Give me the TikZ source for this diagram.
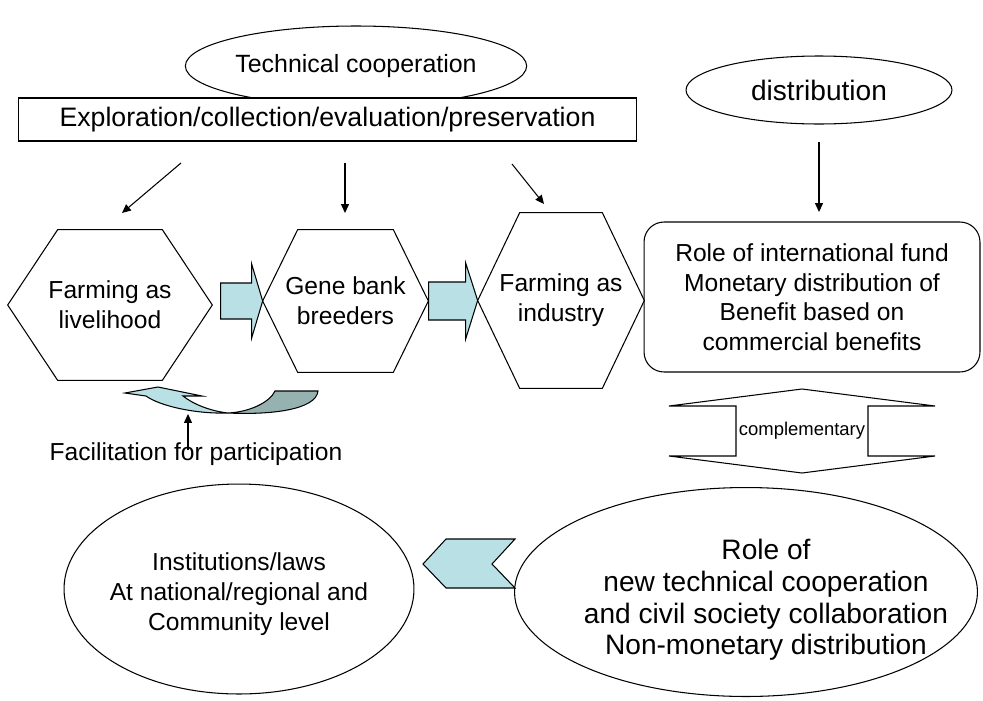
\documentclass[tikz,border=0pt]{standalone}
\usepackage{fontspec}
\setmainfont{Liberation Sans}
\usetikzlibrary{shapes.geometric,arrows.meta,calc}

\definecolor{arrowblue}{RGB}{185,224,228}
\definecolor{arrowshade}{RGB}{150,178,176}

\tikzstyle{oval} = [ellipse, draw, fill=white, inner sep=0pt, align=center, line width=0.6pt]
\tikzstyle{hexbox} = [rectangle, inner sep=0pt, align=center, font=\fontsize{14}{17}\selectfont]
\tikzstyle{outline} = [draw, line width=0.6pt]
\tikzstyle{feed} = [-{Triangle[length=5pt,width=4.5pt]}, line width=0.6pt]
\tikzstyle{blockarrow} = [draw, fill=arrowblue, line width=0.6pt]

% hexagon round a hexbox node, #2 = how far the corners are set in
\newcommand{\hexframe}[2]{%
  \draw[outline] (#1.west) -- ($(#1.north west)+(#2,0)$) -- ($(#1.north east)-(#2,0)$)
    -- (#1.east) -- ($(#1.south east)-(#2,0)$) -- ($(#1.south west)+(#2,0)$) -- cycle;}

\begin{document}
\begin{tikzpicture}[x=0.02cm, y=-0.02cm]
\useasboundingbox (0,0) rectangle (983,700);

% top row
\node[oval, minimum width=6.76cm, minimum height=1.6cm, font=\fontsize{14.2}{17}\selectfont]
    (coop) at (356,66) {Technical cooperation};
\node[outline, fill=white, minimum width=12.38cm, minimum height=0.86cm, inner sep=0pt,
    font=\fontsize{15.2}{18}\selectfont] (tasks) at (327.5,119.5)
    {Exploration/collection/evaluation/preservation};
\node[oval, minimum width=5.32cm, minimum height=1.36cm, font=\fontsize{16}{19}\selectfont]
    (distr) at (819,90) {distribution};

% users of the collections
\node[hexbox, minimum width=4.08cm, minimum height=3cm] (live) at (110,305) {Farming as\\livelihood};
\node[hexbox, minimum width=3.3cm, minimum height=2.84cm] (gene) at (345.5,301) {Gene bank\\breeders};
\node[hexbox, minimum width=3.32cm, minimum height=3.5cm] (indus) at (561,300.5) {Farming as\\industry};
\hexframe{live}{50}
\hexframe{gene}{35}
\hexframe{indus}{42}

\node[outline, rounded corners=0.4cm, minimum width=6.72cm, minimum height=3cm, align=center,
    font=\fontsize{14}{16.8}\selectfont] (fund) at (812,297)
    {Role of international fund\\Monetary distribution of\\Benefit based on\\commercial benefits};

% arrows from the tasks and from distribution
\coordinate (t1) at (181,163);
\coordinate (t2) at (345,163);
\coordinate (t3) at (512,164);
\coordinate (d1) at (819,142);
\coordinate (live top) at (122,213);
\coordinate (gene top) at (345,213);
\coordinate (indus top) at (544,204);
\coordinate (fund top) at (819,212);
\draw[feed] (t1) -- (live top);
\draw[feed] (t2) -- (gene top);
\draw[feed] (t3) -- (indus top);
\draw[feed] (d1) -- (fund top);

% block arrows between the hexagons
\draw[blockarrow] (gene.west) -- ++(-11,-37) -- ++(0,19) -- ++(-31,0) -- ++(0,36)
    -- ++(31,0) -- ++(0,19) -- cycle;
\draw[blockarrow] (indus.west) -- ++(-12,-37.5) -- ++(0,19) -- ++(-37,0) -- ++(0,38)
    -- ++(37,0) -- ++(0,19) -- cycle;

% curved arrow under the first hexagon
\draw[outline, fill=arrowblue] (125,393) -- (158,387) -- (202,396) -- (183,396)
    .. controls (193,404) and (210,411) .. (228,413)
    .. controls (195,414) and (160,406) .. (146,396) -- cycle;
\draw[outline, fill=arrowshade] (228,413) .. controls (250,412) and (270,402) .. (275,391)
    -- (318,391) .. controls (316,410) and (270,415) .. (228,413) -- cycle;

\node[font=\fontsize{14}{17}\selectfont] (facil) at (196,454) {Facilitation for participation};
\coordinate (facil top) at (188,450);
\coordinate (loop foot) at (188,414);
\draw[feed] (facil top) -- (loop foot);

% complementary double arrow
\node[inner sep=0pt, font=\fontsize{10.5}{12}\selectfont] (compl) at (802,431) {complementary};
\draw[outline] (802,389) -- (935,406) -- (868,406) -- (868,456) -- (935,456) -- (802,473)
    -- (669,456) -- (736,456) -- (736,406) -- (669,406) -- cycle;

% bottom row
\node[oval, minimum width=7cm, minimum height=4.2cm] (inst) at (239,589) {};
\node[align=center, font=\fontsize{14}{17}\selectfont] (inst text) at (239,594)
    {Institutions/laws\\At national/regional and\\Community level};
\node[oval, minimum width=9.26cm, minimum height=4.18cm] (collab) at (746,592) {};
\node[align=center, font=\fontsize{16}{18}\selectfont] (collab text) at (766,600)
    {Role of\\new technical cooperation\\and civil society collaboration\\Non-monetary distribution};
\draw[blockarrow] (423,564) -- (446,539) -- (515,539) -- (492,564) -- (515,588) -- (446,588) -- cycle;

\end{tikzpicture}
\end{document}
